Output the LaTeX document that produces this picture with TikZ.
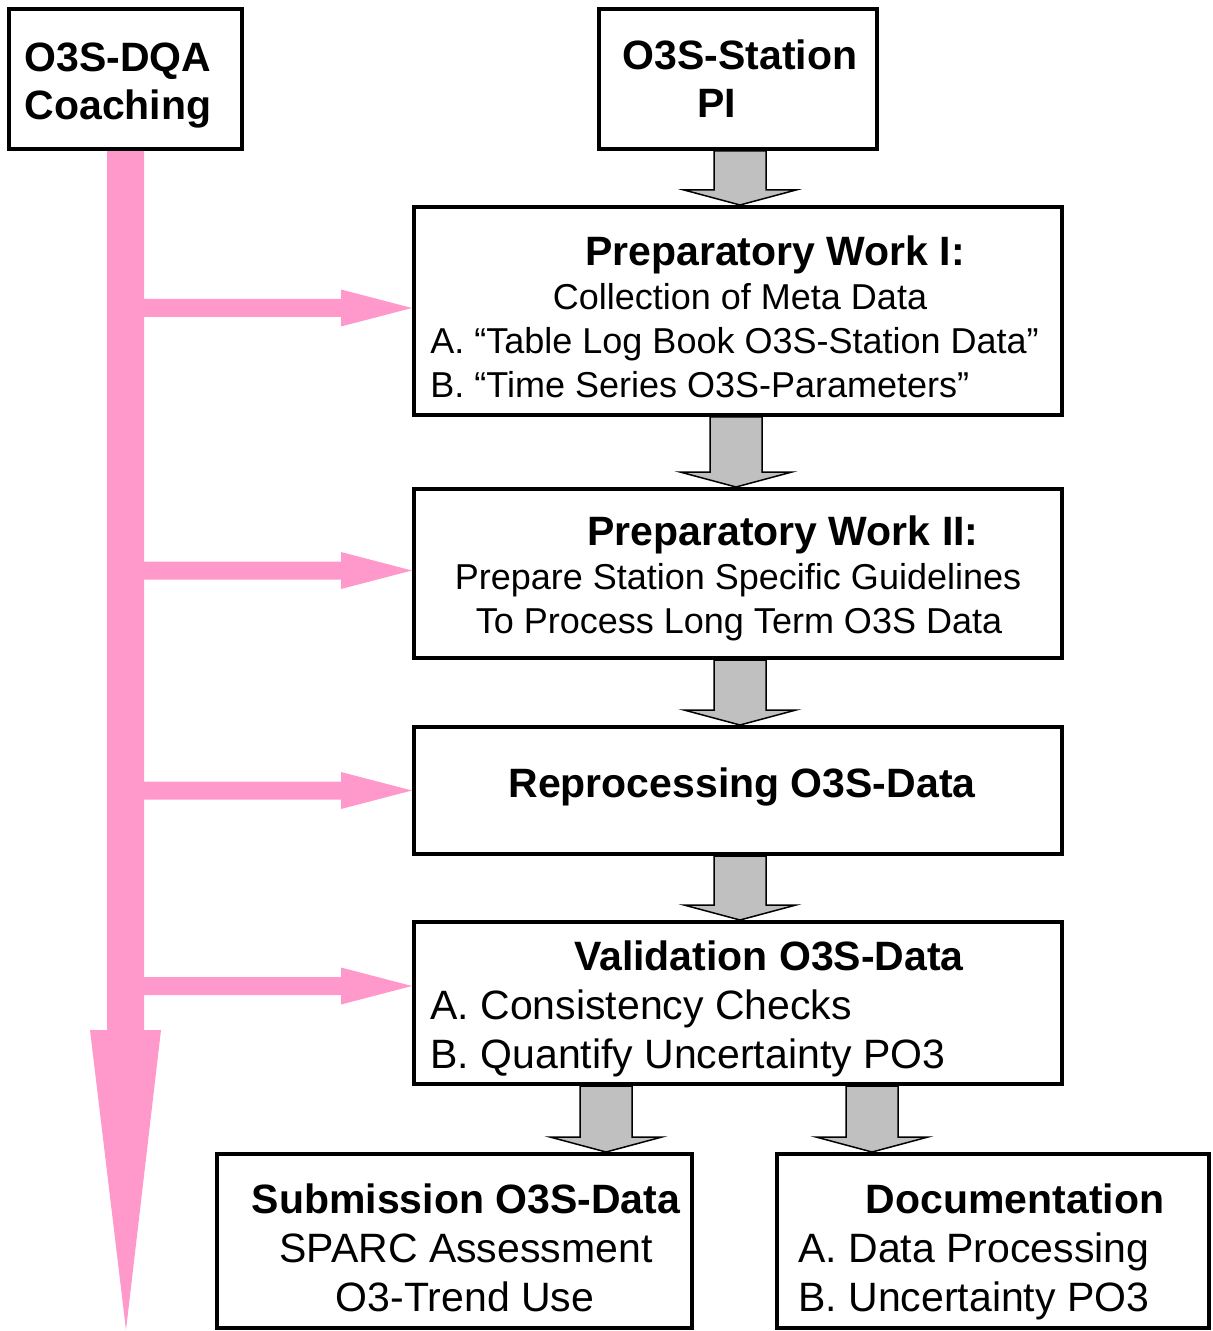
\documentclass[tikz,border=0pt]{standalone}
\usepackage{fontspec}
\setmainfont{Liberation Sans}
\usetikzlibrary{calc,backgrounds}

\begin{document}
\begin{tikzpicture}[x=0.5pt,y=-0.5pt]
  % Colors
  \definecolor{coachcolor}{HTML}{FF99CC}
  \definecolor{arrowgray}{HTML}{C0C0C0}

  % Styles
  \tikzstyle{box}=[draw,line width=2pt,fill=white,inner sep=0pt]
  \tikzstyle{title}=[font=\fontsize{20.5}{24.5}\selectfont\bfseries,inner sep=0pt]
  \tikzstyle{big text}=[font=\fontsize{20.5}{24.5}\selectfont,inner sep=0pt]
  \tikzstyle{small text}=[font=\fontsize{18}{22}\selectfont,inner sep=0pt]
  \tikzstyle{gray arrow}=[fill=arrowgray,draw=black,line width=0.75pt]
  \tikzstyle{coach arrow}=[fill=coachcolor]

  % Local definitions: grey block arrow from box #1 down to box #2 at x=#3
  \def\blockarrow#1#2#3{%
    \coordinate (top) at (#3,0 |- #1.south);
    \coordinate (tip) at (#3,0 |- #2.north);
    \filldraw[gray arrow] ($(top)+(-26,0)$) -- ($(tip)+(-26,-15)$)
      -- ($(tip)+(-56,-15)$) -- (tip) -- ($(tip)+(56,-15)$)
      -- ($(tip)+(26,-15)$) -- ($(top)+(26,0)$) -- cycle;}

  \useasboundingbox (0,0) rectangle (1212,1331);

  % The boxes
  \node[box,minimum width=116.5pt,minimum height=70pt] (dqa) at (125.5,79) {};
  \node[box,minimum width=139pt,minimum height=70pt] (pi) at (738,79) {};
  \node[box,minimum width=324pt,minimum height=104pt] (prepI) at (738,311) {};
  \node[box,minimum width=324pt,minimum height=84.5pt] (prepII) at (738,573.5) {};
  \node[box,minimum width=324pt,minimum height=63.5pt] (reproc) at (738,790.5) {};
  \node[box,minimum width=324pt,minimum height=81pt] (valid) at (738,1003) {};
  \node[box,minimum width=237.5pt,minimum height=87pt] (subm) at (454.5,1241) {};
  \node[box,minimum width=216pt,minimum height=87pt] (docu) at (993,1241) {};

  % The texts
  \node[title,anchor=base] (dqa1) at (118,72) {O3S-DQA};
  \node[title,anchor=base] (dqa2) at (118,120) {Coaching};
  \node[title,anchor=base] (pi1) at (740,70) {O3S-Station};
  \node[title,anchor=base] (pi2) at (717,118) {PI};

  \node[title,anchor=base] (prepI1) at (775,266) {Preparatory Work I:};
  \node[small text,anchor=base] (prepI2) at (740,310) {Collection of Meta Data};
  \node[small text,anchor=base west] (prepI3) at (430,354)
    {A. “Table Log Book O3S-Station Data”};
  \node[small text,anchor=base west] (prepI4) at (430,398)
    {B. “Time Series O3S-Parameters”};

  \node[title,anchor=base] (prepII1) at (783,545) {Preparatory Work II:};
  \node[small text,anchor=base] (prepII2) at (738,589)
    {Prepare Station Specific Guidelines};
  \node[small text,anchor=base] (prepII3) at (739,633)
    {To Process Long Term O3S Data};

  \node[title,anchor=base] (reproc1) at (742,797) {Reprocessing O3S-Data};

  \node[title,anchor=base] (valid1) at (769,970) {Validation O3S-Data};
  \node[big text,anchor=base west] (valid2) at (430,1019) {A. Consistency Checks};
  \node[big text,anchor=base west] (valid3) at (430,1068)
    {B. Quantify Uncertainty PO3};

  \node[title,anchor=base] (subm1) at (466,1213) {Submission O3S-Data};
  \node[big text,anchor=base] (subm2) at (466,1262) {SPARC Assessment};
  \node[big text,anchor=base] (subm3) at (465,1311) {O3-Trend Use};

  \node[title,anchor=base] (docu1) at (1015,1213) {Documentation};
  \node[big text,anchor=base west] (docu2) at (798,1262) {A. Data Processing};
  \node[big text,anchor=base west] (docu3) at (798,1311) {B. Uncertainty PO3};

  % The arrows
  \begin{scope}[on background layer]
    \blockarrow{pi}{prepI}{740}
    \blockarrow{prepI}{prepII}{736}
    \blockarrow{prepII}{reproc}{740}
    \blockarrow{reproc}{valid}{740}
    \blockarrow{valid}{subm}{606}
    \blockarrow{valid}{docu}{872}

    \coordinate (coachend) at (126,1330);
    \fill[coach arrow] ($(dqa.south)+(-18.5,0)$) |- ($(coachend)+(-36,-300)$)
      -- (coachend) -- ($(coachend)+(35,-300)$) -| ($(dqa.south)+(18.5,0)$)
      -- cycle;

    \foreach \b/\off in {prepI/-3, prepII/-3, reproc/0, valid/-17}
    {
      \coordinate (tip) at ($(\b.west)+(0,\off)$);
      \fill[coach arrow] ($(tip)+(-288,-9)$) -- ($(tip)+(-71,-9)$)
        -- ($(tip)+(-71,-18.5)$) -- (tip) -- ($(tip)+(-71,18.5)$)
        -- ($(tip)+(-71,9)$) -- ($(tip)+(-288,9)$) -- cycle;
    }
  \end{scope}
\end{tikzpicture}
\end{document}
